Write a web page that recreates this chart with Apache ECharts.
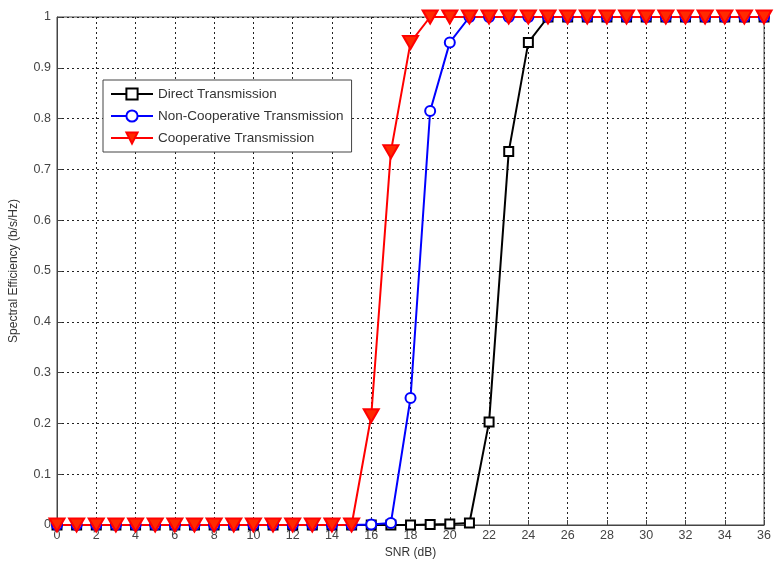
<!DOCTYPE html>
<html><head><meta charset="utf-8">
<script src="https://cdn.jsdelivr.net/npm/echarts@6/dist/echarts.min.js"></script>
<style>html,body{margin:0;padding:0;background:#fff;}#c{width:774px;height:565px;}</style>
</head><body><div id="c"></div>
<script>
const snr = [0,1,2,3,4,5,6,7,8,9,10,11,12,13,14,15,16,17,18,19,20,21,22,23,24,25,26,27,28,29,30,31,32,33,34,35,36];
const direct = [0,0,0,0,0,0,0,0,0,0,0,0,0,0,0,0,0,0,0,0.001,0.002,0.004,0.203,0.735,0.95,1,1,1,1,1,1,1,1,1,1,1,1];
const nonCoop = [0,0,0,0,0,0,0,0,0,0,0,0,0,0,0,0,0.001,0.004,0.25,0.815,0.95,1,1,1,1,1,1,1,1,1,1,1,1,1,1,1,1];
const coop = [0,0,0,0,0,0,0,0,0,0,0,0,0,0,0,0,0.215,0.735,0.95,1,1,1,1,1,1,1,1,1,1,1,1,1,1,1,1,1,1];
const xTicks = [0,2,4,6,8,10,12,14,16,18,20,22,24,26,28,30,32,34,36];
const yTicks = [0,0.1,0.2,0.3,0.4,0.5,0.6,0.7,0.8,0.9,1];

const pairs = a => snr.map((x,i)=>[x,a[i]]);
const font = 'Liberation Sans, Arial, sans-serif';
const chart = echarts.init(document.getElementById('c'));
const gridLine = {show:true, lineStyle:{color:'#222', type:[2,3], width:1}};
chart.setOption({
  animation:false,
  backgroundColor:'#fff',
  grid:{left:56, right:8, top:17, bottom:40, show:true, borderColor:'#444', borderWidth:1},
  legend:{
    left:103, top:80, orient:'vertical', itemGap:8, itemWidth:42, itemHeight:14,
    backgroundColor:'#fff', borderColor:'#444', borderWidth:1, padding:[7,8,7,7],
    textStyle:{fontFamily:font, fontSize:13.5, color:'#333'},
    data:['Direct Transmission','Non-Cooperative Transmission','Cooperative Transmission']
  },
  xAxis:{
    type:'value', min:0, max:36, interval:2,
    name:'SNR (dB)', nameLocation:'middle', nameGap:18,
    nameTextStyle:{fontFamily:font, fontSize:12, color:'#333'},
    axisLine:{lineStyle:{color:'#444'}},
    axisTick:{inside:true, length:5, lineStyle:{color:'#444'}},
    axisLabel:{fontFamily:font, fontSize:12.5, color:'#444', margin:4,
      formatter:v=> xTicks.includes(v)? String(v):''},
    splitLine:gridLine
  },
  yAxis:{
    type:'value', min:0, max:1, interval:0.1,
    name:'Spectral Efficiency (b/s/Hz)', nameLocation:'middle', nameGap:37,
    nameTextStyle:{fontFamily:font, fontSize:12, color:'#333'},
    axisLine:{lineStyle:{color:'#444'}},
    axisTick:{inside:true, length:5, lineStyle:{color:'#444'}},
    axisLabel:{fontFamily:font, fontSize:12.5, color:'#444', margin:6,
      formatter:v=>{const t=yTicks.find(y=>Math.abs(y-v)<1e-6); return t===undefined?'':String(Math.round(t*10)/10);}},
    splitLine:gridLine
  },
  series:[
    {name:'Direct Transmission', type:'line', data:pairs(direct),
     symbol:'rect', symbolSize:9, showAllSymbol:true,
     lineStyle:{color:'#000', width:2}, itemStyle:{color:'#fff', borderColor:'#000', borderWidth:2}},
    {name:'Non-Cooperative Transmission', type:'line', data:pairs(nonCoop),
     symbol:'circle', symbolSize:10, showAllSymbol:true,
     lineStyle:{color:'#0000ff', width:2}, itemStyle:{color:'#fff', borderColor:'#0000ff', borderWidth:2}},
    {name:'Cooperative Transmission', type:'line', data:pairs(coop),
     symbol:'triangle', symbolRotate:180, symbolSize:[15,13], showAllSymbol:true,
     lineStyle:{color:'#ff0000', width:2}, itemStyle:{color:'#ff2a00', borderColor:'#ff0000', borderWidth:2}}
  ]
});
</script></body></html>
